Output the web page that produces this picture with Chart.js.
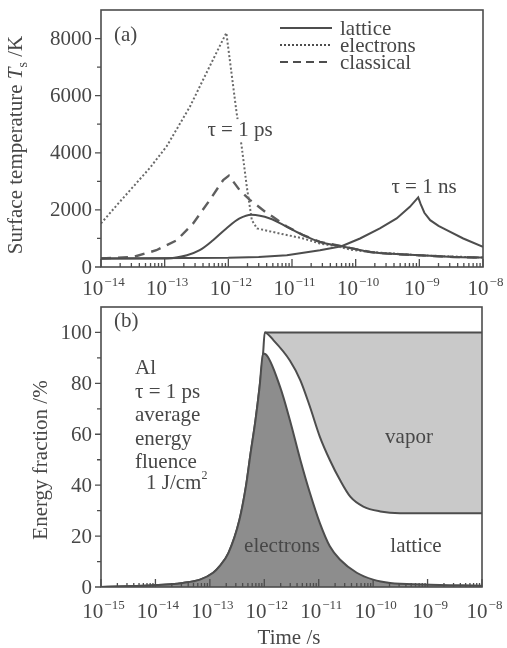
<!DOCTYPE html>
<html>
<head>
<meta charset="utf-8">
<script src="https://cdn.jsdelivr.net/npm/chart.js@4.4.0/dist/chart.umd.min.js"></script>
<style>
  body { margin: 0; background: #fff; }
  canvas { position: absolute; left: 0; }
</style>
</head>
<body>
<canvas id="temp" width="507" height="300" style="top:0"></canvas>
<canvas id="frac" width="507" height="348" style="top:300px"></canvas>
<script>
// ---- (a) surface temperature, K ----
const tLatticePs = [1e-14, 1.07e-13, 2.24e-13, 3.55e-13, 5.75e-13, 9.3e-13, 1.5e-12, 2.3e-12, 4.5e-12, 8.3e-12, 1.5e-11, 2.75e-11, 6e-11, 9.1e-11, 1.7e-10, 3.1e-10, 1e-9, 3.4e-9, 1e-8];
const latticePs = [300, 300, 411, 587, 938, 1350, 1700, 1830, 1700, 1405, 1114, 878, 727, 646, 527, 470, 411, 351, 330];

const tElectronsPs = [1e-14, 1.78e-14, 3.2e-14, 5.9e-14, 1.07e-13, 2.5e-13, 5.1e-13, 9.3e-13, 1.35e-12, 1.62e-12, 1.95e-12, 2.34e-12, 2.82e-12, 6.5e-12, 1.5e-11, 2.75e-11, 5e-11, 9.1e-11, 1.7e-10, 1e-9, 1e-8];
const electronsPs = [1525, 2170, 2810, 3480, 4220, 5620, 7030, 8200, 5390, 4220, 2810, 1640, 1350, 1170, 1000, 820, 727, 590, 527, 411, 330];

const tClassical = [1e-14, 3.2e-14, 7.4e-14, 1.55e-13, 2.8e-13, 5.1e-13, 8.3e-13, 1.02e-12, 1.5e-12, 2.2e-12, 3.8e-12, 5e-12, 8.3e-12, 1.5e-11, 2.75e-11, 6e-11, 9.1e-11, 1.7e-10, 3.1e-10, 1e-9, 3.4e-9, 1e-8];
const classical = [300, 350, 587, 938, 1525, 2343, 3046, 3200, 2695, 2343, 1932, 1757, 1420, 1114, 878, 727, 646, 527, 470, 411, 351, 330];

const tLatticeNs = [1e-14, 1e-12, 3e-12, 8.3e-12, 2.75e-11, 6e-11, 1.17e-10, 2.4e-10, 4.4e-10, 7.1e-10, 9.6e-10, 1.05e-9, 1.2e-9, 1.48e-9, 2e-9, 2.7e-9, 4.9e-9, 1e-8];
const latticeNs = [300, 320, 350, 411, 587, 727, 998, 1350, 1700, 2108, 2440, 2200, 1900, 1640, 1440, 1289, 998, 703];

const tempMajor = [0, 2000, 4000, 6000, 8000];
const tempMinor = [1000, 3000, 5000, 7000];
const decadesA = [-14, -13, -12, -11, -10, -9, -8];

// ---- (b) energy fraction, % ----
const tElectrons = [1e-15, 7.9e-15, 3.2e-14, 6.6e-14, 1.15e-13, 1.5e-13, 2.2e-13, 3.5e-13, 4.6e-13, 5.6e-13, 6.9e-13, 8.2e-13, 9.5e-13, 1.05e-12, 1.95e-12, 2.95e-12, 4.6e-12, 6.9e-12, 1.05e-11, 1.6e-11, 2.45e-11, 5e-11, 1e-10, 2.05e-10, 8.3e-10, 1e-8];
const electrons = [0, 0.6, 1.6, 2.9, 5.6, 8.1, 13.4, 26.4, 39.5, 52.5, 65.6, 78.6, 91.7, 91.5, 78.6, 65.6, 49.9, 36.9, 25.1, 16.0, 10.8, 5.6, 2.9, 1.6, 1.0, 0.5];

const tTotal = [1e-15, 7.9e-15, 3.2e-14, 6.6e-14, 1.15e-13, 1.5e-13, 2.2e-13, 3.5e-13, 4.6e-13, 5.6e-13, 6.9e-13, 8.2e-13, 9.5e-13, 1.02e-12, 1.48e-12, 2.95e-12, 4.6e-12, 6.9e-12, 1.05e-11, 1.6e-11, 2.45e-11, 3.8e-11, 6.6e-11, 1.35e-10, 3.1e-10, 1e-8];
const total = [0, 0.6, 1.6, 2.9, 5.6, 8.1, 13.4, 26.4, 39.5, 52.5, 65.6, 78.6, 91.7, 100, 96.9, 89.0, 81.2, 70.8, 59.0, 49.9, 42.1, 35.5, 31.6, 29.7, 29.0, 29.0];

const tVapor = [1.02e-12, 1e-8];
const vaporTop = [100, 100];

const fracMajor = [0, 20, 40, 60, 80, 100];
const fracMinor = [10, 30, 50, 70, 90];
const decadesB = [-15, -14, -13, -12, -11, -10, -9, -8];

const SERIF = '"Liberation Serif", "Times New Roman", serif';
const INK = '#4d4d4d';
const TXT = '#474747';

const pts = (ts, vs) => ts.map((t, i) => ({ x: t, y: vs[i] }));

function font(size, style) {
  return (style ? style + ' ' : '') + size + 'px ' + SERIF;
}

// draws "10" with a raised exponent, centred on x
function powLabel(ctx, x, base, exp, size) {
  const sup = '\u2212' + Math.abs(exp);
  ctx.font = font(size);
  const wb = ctx.measureText('10').width;
  ctx.font = font(Math.round(size * 0.64));
  const ws = ctx.measureText(sup).width;
  const x0 = x - (wb + ws) / 2 + 2;
  ctx.textAlign = 'left';
  ctx.textBaseline = 'alphabetic';
  ctx.font = font(size);
  ctx.fillText('10', x0, base);
  ctx.font = font(Math.round(size * 0.64));
  ctx.fillText(sup, x0 + wb + 1, base - size * 0.45);
}

// text made of pieces: [text, size, style, dy]
function runs(ctx, pieces, x, y, align) {
  let w = 0;
  pieces.forEach(p => { ctx.font = font(p[1], p[2]); w += ctx.measureText(p[0]).width; });
  let cx = align === 'center' ? x - w / 2 : x;
  ctx.textAlign = 'left';
  ctx.textBaseline = 'alphabetic';
  pieces.forEach(p => {
    ctx.font = font(p[1], p[2]);
    ctx.fillText(p[0], cx, y + (p[3] || 0));
    cx += ctx.measureText(p[0]).width;
  });
  return w;
}

const axesPlugin = {
  id: 'paperAxes',
  afterDraw(chart, args, o) {
    const { ctx, chartArea: a } = chart;
    const x = chart.scales.x, y = chart.scales.y;
    ctx.save();
    ctx.strokeStyle = INK;
    ctx.fillStyle = TXT;
    ctx.lineWidth = 1.6;
    ctx.strokeRect(a.left, a.top, a.right - a.left, a.bottom - a.top);

    ctx.beginPath();
    o.yMajor.forEach(v => { const py = y.getPixelForValue(v); ctx.moveTo(a.left - 6, py); ctx.lineTo(a.left, py); });
    o.yMinor.forEach(v => { const py = y.getPixelForValue(v); ctx.moveTo(a.left - 4, py); ctx.lineTo(a.left, py); });
    o.decades.forEach((d, i) => {
      const px = x.getPixelForValue(Math.pow(10, d));
      ctx.moveTo(px, a.bottom); ctx.lineTo(px, a.bottom - 8);
      if (i < o.decades.length - 1) {
        for (let k = 2; k <= 9; k++) {
          const mx = x.getPixelForValue(k * Math.pow(10, d));
          ctx.moveTo(mx, a.bottom); ctx.lineTo(mx, a.bottom - 4);
        }
      }
    });
    ctx.lineWidth = 1.3;
    ctx.stroke();

    ctx.font = font(o.tickSize);
    ctx.textAlign = 'right';
    ctx.textBaseline = 'middle';
    o.yMajor.forEach(v => ctx.fillText(String(v), a.left - 9, y.getPixelForValue(v) + 1));
    o.decades.forEach(d => powLabel(ctx, x.getPixelForValue(Math.pow(10, d)), o.xLabelBase, d, o.tickSize));

    // rotated y title
    ctx.save();
    ctx.translate(o.yTitle.x, o.yTitle.y);
    ctx.rotate(-Math.PI / 2);
    runs(ctx, o.yTitle.pieces, 0, 7, 'center');
    ctx.restore();
    if (o.xTitle) runs(ctx, o.xTitle.pieces, o.xTitle.x, o.xTitle.y, 'center');

    (o.notes || []).forEach(n => {
      if (n.bg) {
        ctx.font = font(n.size);
        const w = ctx.measureText(n.text).width;
        ctx.fillStyle = '#fff';
        ctx.fillRect(n.x - w / 2 - 2, n.y - n.size * 0.8, w + 4, n.size * 1.05);
        ctx.fillStyle = TXT;
      }
      const pieces = n.pieces || [[n.text, n.size]];
      runs(ctx, pieces, n.x, n.y, n.align);
    });

    (o.legend || []).forEach(r => {
      ctx.beginPath();
      ctx.setLineDash(r.dash);
      ctx.lineWidth = 2;
      ctx.strokeStyle = INK;
      ctx.moveTo(r.x, r.y); ctx.lineTo(r.x + 52, r.y);
      ctx.stroke();
      ctx.setLineDash([]);
      runs(ctx, [[r.text, r.size]], r.x + 60, r.y + 7, 'left');
    });
    ctx.restore();
  }
};

const baseScales = (xmin, ymax, xh) => ({
  x: { type: 'logarithmic', min: xmin, max: 1e-8, ticks: { display: false }, grid: { display: false }, border: { display: false }, afterFit: s => { s.height = xh; } },
  y: { min: 0, max: ymax, ticks: { display: false }, grid: { display: false }, border: { display: false }, afterFit: s => { s.width = 101; } }
});

const line = (data, extra) => Object.assign({ data, borderColor: INK, borderWidth: 2, pointRadius: 0, tension: 0, fill: false }, extra);

new Chart(document.getElementById('temp'), {
  type: 'line',
  data: {
    datasets: [
      line(pts(tLatticePs, latticePs), { cubicInterpolationMode: 'monotone' }),
      line(pts(tElectronsPs, electronsPs), { borderColor: '#6a6a6a', borderDash: [2, 2.2] }),
      line(pts(tClassical, classical), { borderColor: '#5e5e5e', borderWidth: 2.4, borderDash: [10, 7] }),
      line(pts(tLatticeNs, latticeNs))
    ]
  },
  options: {
    responsive: false, animation: false, devicePixelRatio: 1,
    layout: { padding: { left: 0, right: 24, top: 10, bottom: 0 } },
    plugins: {
      legend: { display: false }, tooltip: { enabled: false },
      paperAxes: {
        yMajor: tempMajor, yMinor: tempMinor, decades: decadesA, tickSize: 21, xLabelBase: 295,
        yTitle: { x: 15, y: 145, pieces: [['Surface temperature ', 21], ['T', 21, 'italic'], ['s', 14, null, 5], [' /K', 21]] },
        notes: [
          { text: '(a)', size: 21, x: 114, y: 41, align: 'left' },
          { text: '\u03c4 = 1 ps', size: 21, x: 240, y: 136, align: 'center', bg: true },
          { text: '\u03c4 = 1 ns', size: 21, x: 424, y: 193, align: 'center' }
        ],
        legend: [
          { text: 'lattice', dash: [], x: 280, y: 28, size: 21 },
          { text: 'electrons', dash: [2, 2], x: 280, y: 45, size: 21 },
          { text: 'classical', dash: [8, 5], x: 280, y: 62, size: 21 }
        ]
      }
    },
    scales: baseScales(1e-14, 9000, 33)
  },
  plugins: [axesPlugin]
});

new Chart(document.getElementById('frac'), {
  type: 'line',
  data: {
    datasets: [
      line(pts(tElectrons, electrons), { order: 0, fill: 'origin', backgroundColor: '#8d8d8d', cubicInterpolationMode: 'monotone' }),
      line(pts(tTotal, total), { order: 1, fill: 'origin', backgroundColor: '#ffffff', cubicInterpolationMode: 'monotone' }),
      line(pts(tVapor, vaporTop), { order: 2, fill: 'origin', backgroundColor: '#c9c9c9' })
    ]
  },
  options: {
    responsive: false, animation: false, devicePixelRatio: 1,
    layout: { padding: { left: 0, right: 25, top: 7, bottom: 0 } },
    plugins: {
      legend: { display: false }, tooltip: { enabled: false },
      paperAxes: {
        yMajor: fracMajor, yMinor: fracMinor, decades: decadesB, tickSize: 21, xLabelBase: 318,
        yTitle: { x: 40, y: 160, pieces: [['Energy fraction /%', 21]] },
        xTitle: { x: 289, y: 344, pieces: [['Time /s', 21]] },
        notes: [
          { text: '(b)', size: 21, x: 114, y: 27, align: 'left' },
          { text: 'Al', size: 21, x: 135, y: 74, align: 'left' },
          { text: '\u03c4 = 1 ps', size: 21, x: 135, y: 98, align: 'left' },
          { text: 'average', size: 21, x: 135, y: 121, align: 'left' },
          { text: 'energy', size: 21, x: 135, y: 145, align: 'left' },
          { text: 'fluence', size: 21, x: 135, y: 168, align: 'left' },
          { pieces: [['1 J/cm', 21], ['2', 12, null, -10]], x: 146, y: 189, align: 'left' },
          { text: 'vapor', size: 21, x: 409, y: 143, align: 'center' },
          { text: 'electrons', size: 21, x: 282, y: 252, align: 'center' },
          { text: 'lattice', size: 21, x: 416, y: 252, align: 'center' }
        ]
      }
    },
    scales: baseScales(1e-15, 110, 61)
  },
  plugins: [axesPlugin]
});
</script>
</body>
</html>
